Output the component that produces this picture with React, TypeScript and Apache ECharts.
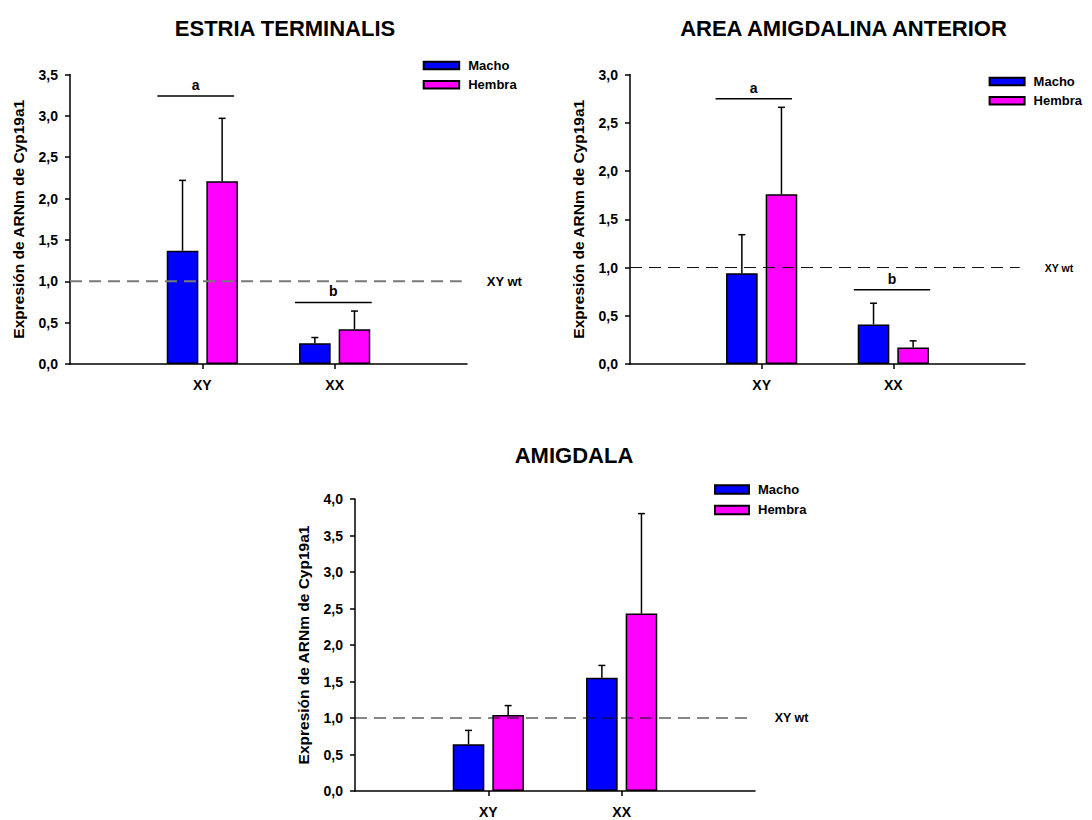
import React, { useEffect, useRef } from "react";
import * as echarts from "echarts";

// ---------- data ----------
const CATEGORIES = ["XY", "XX"];
const SERIES_NAMES = ["Macho", "Hembra"];
const TITLES = ["ESTRIA TERMINALIS", "AREA AMIGDALINA ANTERIOR", "AMIGDALA"];
const Y_NAME = "Expresión de ARNm de Cyp19a1";
const REF_LABEL = "XY wt";
const REF_VALUE = 1.0;

// Estria terminalis
const ET_MACHO = [1.37, 0.25];
const ET_MACHO_SD = [0.85, 0.07];
const ET_HEMBRA = [2.21, 0.42];
const ET_HEMBRA_SD = [0.76, 0.22];
const ET_SIG = [
  { label: "a", from: 0.66, to: 1.24, y: 3.24 },
  { label: "b", from: 1.7, to: 2.28, y: 0.745 },
];

// Area amigdalina anterior
const AAA_MACHO = [0.94, 0.41];
const AAA_MACHO_SD = [0.4, 0.22];
const AAA_HEMBRA = [1.76, 0.17];
const AAA_HEMBRA_SD = [0.9, 0.07];
const AAA_SIG = [
  { label: "a", from: 0.65, to: 1.23, y: 2.75 },
  { label: "b", from: 1.7, to: 2.28, y: 0.77 },
];

// Amigdala
const AM_MACHO = [0.64, 1.55];
const AM_MACHO_SD = [0.19, 0.17];
const AM_HEMBRA = [1.04, 2.43];
const AM_HEMBRA_SD = [0.13, 1.37];
const AM_SIG: { label: string; from: number; to: number; y: number }[] = [];

const Y_MAX = [3.5, 3.0, 4.0];
const Y_TICK = 0.5;

// ---------- layout / style ----------
const FONT = "'Liberation Sans', Arial, Helvetica, sans-serif";
const COLORS = ["#0000FF", "#FF00FF"];
const BAR_W = 31.6;
const BAR_GAP = 8;
const REF_END = 2.96;

const PANELS = [
  {
    grid: { left: 70, top: 74.5, width: 397, height: 289.5 },
    title: { left: 280, top: 12 },
    legend: { left: 422.7, top: 59, itemWidth: 35.5, itemHeight: 7.5, itemGap: 6.3 },
    refColor: "#7a7a7a",
    refWidth: 2,
    refFont: 13,
    macho: ET_MACHO, machoSd: ET_MACHO_SD, hembra: ET_HEMBRA, hembraSd: ET_HEMBRA_SD, sig: ET_SIG,
  },
  {
    grid: { left: 630, top: 74.5, width: 395, height: 289.5 },
    title: { left: 838.5, top: 12 },
    legend: { left: 988.6, top: 75, itemWidth: 35, itemHeight: 7.5, itemGap: 6.2 },
    refColor: "#111111",
    refWidth: 1,
    refFont: 10.5,
    macho: AAA_MACHO, machoSd: AAA_MACHO_SD, hembra: AAA_HEMBRA, hembraSd: AAA_HEMBRA_SD, sig: AAA_SIG,
  },
  {
    grid: { left: 355, top: 499, width: 400, height: 292 },
    title: { left: 569, top: 439 },
    legend: { left: 714, top: 483, itemWidth: 34, itemHeight: 8.5, itemGap: 7.4 },
    refColor: "#111111",
    refWidth: 1,
    refFont: 12.5,
    macho: AM_MACHO, machoSd: AM_MACHO_SD, hembra: AM_HEMBRA, hembraSd: AM_HEMBRA_SD, sig: AM_SIG,
  },
];

const fmt = (v: number) => v.toFixed(1).replace(".", ",");

function errRender(offset: number) {
  return (params: any, api: any) => {
    const base = api.coord([api.value(0), api.value(1)]);
    const top = api.coord([api.value(0), api.value(2)]);
    const x = base[0] + offset;
    const st = { stroke: "#000", lineWidth: 1.5 };
    return {
      type: "group",
      children: [
        { type: "line", shape: { x1: x, y1: base[1], x2: x, y2: top[1] }, style: st },
        { type: "line", shape: { x1: x - 3.5, y1: top[1], x2: x + 3.5, y2: top[1] }, style: st },
      ],
    };
  };
}

function sigRender(sig: { label: string }[]) {
  return (params: any, api: any) => {
    const p0 = api.coord([api.value(0), api.value(2)]);
    const p1 = api.coord([api.value(1), api.value(2)]);
    return {
      type: "group",
      children: [
        { type: "line", shape: { x1: p0[0], y1: p0[1], x2: p1[0], y2: p1[1] }, style: { stroke: "#000", lineWidth: 1.5 } },
        {
          type: "text",
          style: {
            text: sig[params.dataIndex].label,
            x: (p0[0] + p1[0]) / 2,
            y: p0[1] - 11,
            fill: "#000",
            font: `bold 14px ${FONT}`,
            align: "center",
            verticalAlign: "middle",
          },
        },
      ],
    };
  };
}

function buildOption() {
  const axisLineStyle = { color: "#000", width: 1.5 };
  const grid: any[] = [];
  const xAxis: any[] = [];
  const yAxis: any[] = [];
  const title: any[] = [];
  const legend: any[] = [];
  const series: any[] = [];
  const off = (BAR_W + BAR_GAP) / 2;

  PANELS.forEach((p, i) => {
    grid.push({ ...p.grid, containLabel: false });
    title.push({
      text: TITLES[i],
      left: p.title.left,
      top: p.title.top,
      textAlign: "center",
      textStyle: { fontFamily: FONT, fontSize: 22, fontWeight: "bold", color: "#000" },
    });
    legend.push({
      data: SERIES_NAMES,
      orient: "vertical",
      left: p.legend.left,
      top: p.legend.top,
      itemWidth: p.legend.itemWidth,
      itemHeight: p.legend.itemHeight,
      itemGap: p.legend.itemGap,
      padding: 0,
      icon: "rect",
      selectedMode: false,
      textStyle: { fontFamily: FONT, fontSize: 13, fontWeight: "bold", color: "#000", padding: [0, 0, 0, 4] },
    });
    xAxis.push({
      type: "category",
      gridIndex: i,
      data: ["", ...CATEGORIES, " "],
      boundaryGap: false,
      axisLine: { lineStyle: axisLineStyle },
      axisTick: {
        show: true,
        length: 5,
        interval: (idx: number, val: string) => CATEGORIES.indexOf(val) >= 0,
        lineStyle: axisLineStyle,
      },
      axisLabel: { interval: 0, margin: 14, fontFamily: FONT, fontSize: 14, fontWeight: "bold", color: "#000" },
      splitLine: { show: false },
    });
    xAxis.push({ type: "value", gridIndex: i, min: 0, max: 3, show: false });
    yAxis.push({
      type: "value",
      gridIndex: i,
      min: 0,
      max: Y_MAX[i],
      interval: Y_TICK,
      name: Y_NAME,
      nameLocation: "middle",
      nameGap: 44,
      nameRotate: 90,
      nameTextStyle: { fontFamily: FONT, fontSize: 15.5, fontWeight: "bold", color: "#000" },
      axisLine: { show: true, lineStyle: axisLineStyle },
      axisTick: { show: true, length: 5, lineStyle: axisLineStyle },
      axisLabel: { formatter: fmt, margin: 12, fontFamily: FONT, fontSize: 14, fontWeight: "bold", color: "#000" },
      splitLine: { show: false },
    });

    const groups = [
      { name: SERIES_NAMES[0], vals: p.macho, sd: p.machoSd, color: COLORS[0], offset: -off },
      { name: SERIES_NAMES[1], vals: p.hembra, sd: p.hembraSd, color: COLORS[1], offset: off },
    ];
    groups.forEach((g) => {
      series.push({
        type: "bar",
        name: g.name,
        xAxisIndex: 2 * i,
        yAxisIndex: i,
        data: CATEGORIES.map((c, k) => [c, g.vals[k]]),
        barWidth: BAR_W,
        barGap: `${(BAR_GAP / BAR_W) * 100}%`,
        itemStyle: { color: g.color, borderColor: "#000", borderWidth: 1.5 },
        z: 2,
      });
    });
    groups.forEach((g) => {
      series.push({
        type: "custom",
        name: g.name + " SD",
        xAxisIndex: 2 * i,
        yAxisIndex: i,
        data: CATEGORIES.map((c, k) => [c, g.vals[k], g.vals[k] + g.sd[k]]),
        encode: { x: 0, y: [1, 2] },
        renderItem: errRender(g.offset),
        z: 3,
        silent: true,
      });
    });
    series.push({
      type: "line",
      name: REF_LABEL,
      xAxisIndex: 2 * i + 1,
      yAxisIndex: i,
      data: [
        [0, REF_VALUE],
        [REF_END, REF_VALUE],
      ],
      symbol: "none",
      silent: true,
      lineStyle: { color: p.refColor, width: p.refWidth, type: [12, 7] },
      endLabel: {
        show: true,
        formatter: REF_LABEL,
        distance: 25,
        fontFamily: FONT,
        fontSize: p.refFont,
        fontWeight: "bold",
        color: "#000",
      },
      z: 4,
    });
    if (p.sig.length) {
      series.push({
        type: "custom",
        name: "sig" + i,
        xAxisIndex: 2 * i + 1,
        yAxisIndex: i,
        data: p.sig.map((s) => [s.from, s.to, s.y]),
        encode: { x: [0, 1], y: 2 },
        renderItem: sigRender(p.sig),
        z: 5,
        silent: true,
      });
    }
  });

  return {
    animation: false,
    backgroundColor: "#fff",
    textStyle: { fontFamily: FONT },
    title,
    legend,
    grid,
    xAxis,
    yAxis,
    series,
  };
}

export default function App() {
  const ref = useRef<HTMLDivElement>(null);
  useEffect(() => {
    if (!ref.current) return;
    const chart = echarts.init(ref.current, null, { renderer: "svg" });
    chart.setOption(buildOption() as any);
    return () => chart.dispose();
  }, []);
  return (
    <div
      ref={ref}
      style={{ position: "absolute", left: 0, top: 0, width: 1092, height: 820, background: "#fff" }}
    />
  );
}
